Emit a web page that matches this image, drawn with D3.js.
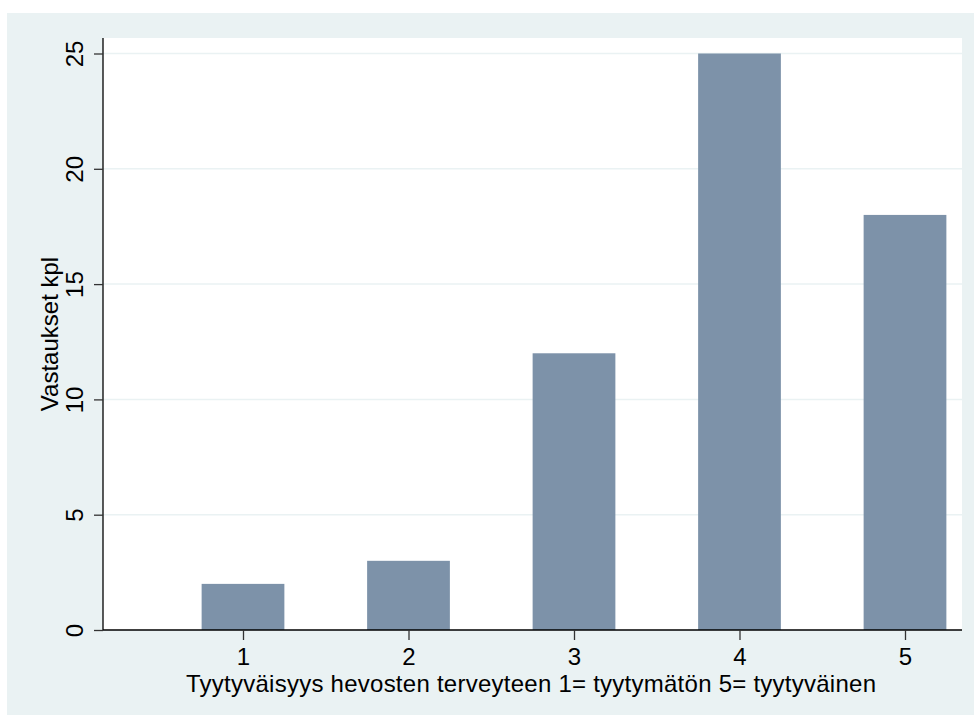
<!DOCTYPE html>
<html>
<head>
<meta charset="utf-8">
<script src="https://cdn.jsdelivr.net/npm/d3@7"></script>
<style>
  body { margin: 0; background: #fff; }
  text { font-family: "Liberation Sans", Arial, sans-serif; fill: #000; }
</style>
</head>
<body>
<div id="chart"></div>
<script>
// data
const categories = [1, 2, 3, 4, 5];
const counts = [2, 3, 12, 25, 18];
const yTicks = [0, 5, 10, 15, 20, 25];
const xTitle = 'Tyytyväisyys hevosten terveyteen 1= tyytymätön 5= tyytyväinen';
const yTitle = 'Vastaukset kpl';

const width = 974;
const height = 715;
const plot = { left: 103, right: 962, top: 38, bottom: 630 };
const fontSize = 24;

const svg = d3.select('#chart')
  .append('svg')
  .attr('width', width)
  .attr('height', height);

// outer graph region (Stata style light bluish grey)
svg.append('rect')
  .attr('x', 7).attr('y', 13)
  .attr('width', width - 7).attr('height', height - 13)
  .attr('fill', '#eaf2f3');

svg.append('rect')
  .attr('x', plot.left).attr('y', plot.top)
  .attr('width', plot.right - plot.left).attr('height', plot.bottom - plot.top)
  .attr('fill', '#fff');

// x: category centres 1..5
const x = d3.scaleLinear().domain([1, 5]).range([243, 905]);
const step = x(2) - x(1);
const y = d3.scaleLinear().domain([0, 25]).range([plot.bottom, 53.5]);

// gridlines
svg.append('g')
  .selectAll('line')
  .data(yTicks.filter((d) => d > 0))
  .enter()
  .append('line')
  .attr('x1', plot.left).attr('x2', plot.right)
  .attr('y1', (d) => y(d)).attr('y2', (d) => y(d))
  .attr('stroke', '#eaf2f3')
  .attr('stroke-width', 1.5);

// bars
svg.append('g')
  .selectAll('rect')
  .data(categories)
  .enter()
  .append('rect')
  .attr('x', (d) => x(d) - step / 4)
  .attr('width', step / 2)
  .attr('y', (d, i) => y(counts[i]))
  .attr('height', (d, i) => y(0) - y(counts[i]))
  .attr('fill', '#7d92a9');

// y axis
const yAxis = svg.append('g')
  .attr('transform', `translate(${plot.left},0)`)
  .call(d3.axisLeft(y).tickValues(yTicks).tickSize(9).tickSizeOuter(0).tickPadding(0));
yAxis.select('.domain').attr('stroke', '#000').attr('stroke-width', 1.3)
  .attr('d', `M0,${plot.top}V${plot.bottom}`);
yAxis.selectAll('.tick line').attr('stroke', '#333').attr('stroke-width', 1.3);
yAxis.selectAll('.tick text')
  .attr('font-size', fontSize)
  .attr('text-anchor', 'middle')
  .attr('dy', 0)
  .attr('x', 0)
  .attr('transform', 'translate(-20,0) rotate(-90)');

// x axis
const xAxis = svg.append('g')
  .attr('transform', `translate(0,${plot.bottom})`)
  .call(d3.axisBottom(x).tickValues(categories).tickFormat(d3.format('d')).tickSize(10).tickSizeOuter(0).tickPadding(8));
xAxis.select('.domain').attr('stroke', '#000').attr('stroke-width', 1.3)
  .attr('d', `M${plot.left},0H${plot.right}`);
xAxis.selectAll('.tick line').attr('stroke', '#333').attr('stroke-width', 1.3);
xAxis.selectAll('.tick text').attr('font-size', fontSize);

// titles
svg.append('text')
  .attr('x', 531).attr('y', 692)
  .attr('text-anchor', 'middle')
  .attr('font-size', fontSize)
  .attr('textLength', 690)
  .text(xTitle);

svg.append('text')
  .attr('transform', 'translate(58,334) rotate(-90)')
  .attr('text-anchor', 'middle')
  .attr('font-size', fontSize)
  .text(yTitle);
</script>
</body>
</html>
